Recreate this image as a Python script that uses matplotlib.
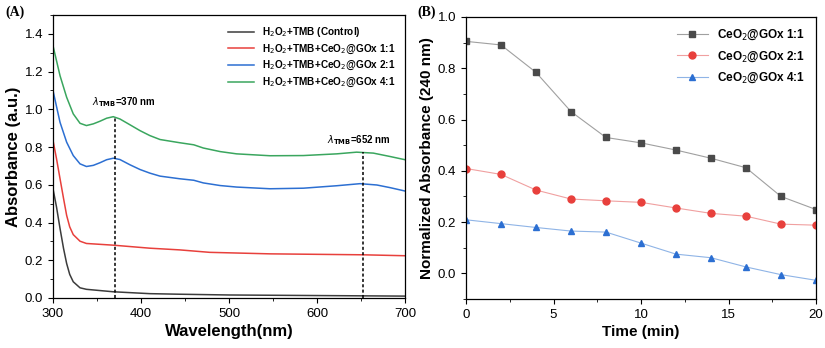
import matplotlib
matplotlib.use("Agg")
import matplotlib.pyplot as plt
from matplotlib.ticker import MultipleLocator

plt.rcParams['font.family'] = ['Liberation Sans', 'DejaVu Sans']

# ---- panel A: UV-vis spectra ----
wl_ctrl = [300, 304, 308, 312, 315.5, 319, 323, 330.7, 338, 368.5, 410, 444, 500, 600, 700]
ab_ctrl = [0.579, 0.482, 0.368, 0.262, 0.183, 0.125, 0.086, 0.054, 0.046, 0.033, 0.023,
           0.020, 0.016, 0.013, 0.010]

wl_11 = [300, 304, 308, 312, 315.5, 319, 323, 330.7, 338, 368.5, 410, 444, 478, 546.6,
         652, 700]
ab_11 = [0.835, 0.738, 0.632, 0.527, 0.438, 0.377, 0.336, 0.301, 0.289, 0.280, 0.264,
         0.255, 0.242, 0.234, 0.229, 0.224]

wl_21 = [300, 308, 315.5, 323, 330.7, 338, 345.8, 353.4, 361, 368.5, 376, 387.5, 398.9,
         410, 421.6, 444, 460, 470.8, 490, 508.7, 546.6, 584.5, 622.4, 648.9, 668, 683, 700]
ab_21 = [1.099, 0.931, 0.826, 0.755, 0.711, 0.697, 0.703, 0.717, 0.733, 0.741, 0.734,
         0.706, 0.681, 0.662, 0.646, 0.632, 0.624, 0.610, 0.596, 0.588, 0.579, 0.582,
         0.595, 0.606, 0.599, 0.585, 0.567]

wl_41 = [300, 308, 315.5, 323, 330.7, 338, 345.8, 353.4, 361, 368.5, 376, 387.5, 398.9,
         410, 421.6, 444, 460, 470.8, 490, 508.7, 546.6, 584.5, 622.4, 645, 664, 683, 700]
ab_41 = [1.337, 1.178, 1.064, 0.976, 0.926, 0.914, 0.923, 0.937, 0.953, 0.961, 0.949,
         0.918, 0.887, 0.861, 0.840, 0.823, 0.812, 0.795, 0.776, 0.764, 0.754, 0.755,
         0.764, 0.773, 0.768, 0.750, 0.733]

labels_a = ['H$_2$O$_2$+TMB (Control)', 'H$_2$O$_2$+TMB+CeO$_2$@GOx 1:1',
            'H$_2$O$_2$+TMB+CeO$_2$@GOx 2:1', 'H$_2$O$_2$+TMB+CeO$_2$@GOx 4:1']
colors_a = ['#3c3c3c', '#e8403c', '#2c6fd2', '#3aa65e']

peaks = [370, 652]
peak_tops = [0.962, 0.772]

# ---- panel B: normalized absorbance vs time ----
time = [0, 2, 4, 6, 8, 10, 12, 14, 16, 18, 20]
abs_11 = [0.905, 0.891, 0.784, 0.631, 0.530, 0.509, 0.481, 0.449, 0.412, 0.300, 0.249]
abs_21 = [0.409, 0.386, 0.325, 0.290, 0.283, 0.277, 0.255, 0.234, 0.223, 0.192, 0.188]
abs_41 = [0.209, 0.194, 0.179, 0.165, 0.161, 0.118, 0.075, 0.061, 0.025, -0.005, -0.027]
labels_b = ['CeO$_2$@GOx 1:1', 'CeO$_2$@GOx 2:1', 'CeO$_2$@GOx 4:1']

fig = plt.figure(figsize=(8.25, 3.48), dpi=100)
axA = fig.add_axes([53/825, 1-298/348, 352/825, 283/348])
axB = fig.add_axes([466/825, 1-299/348, 350/825, 282/348])

for wl, ab, lab, c in zip([wl_ctrl, wl_11, wl_21, wl_41], [ab_ctrl, ab_11, ab_21, ab_41],
                          labels_a, colors_a):
    axA.plot(wl, ab, color=c, lw=1.1, label=lab)

for p, top in zip(peaks, peak_tops):
    axA.plot([p, p], [0, top], color='black', ls=(0, (2, 1.5)), lw=1.1)
axA.text(381, 1.04, r'$\lambda_{\mathbf{TMB}}$=370 nm', ha='center', va='center',
         fontsize=7, fontweight='bold')
axA.text(648, 0.836, r'$\lambda_{\mathbf{TMB}}$=652 nm', ha='center', va='center',
         fontsize=7, fontweight='bold')

axA.set_xlim(300, 700)
axA.set_ylim(0, 1.5)
axA.xaxis.set_major_locator(MultipleLocator(100))
axA.xaxis.set_minor_locator(MultipleLocator(50))
axA.yaxis.set_major_locator(MultipleLocator(0.2))
axA.yaxis.set_minor_locator(MultipleLocator(0.1))
axA.set_xlabel('Wavelength(nm)', fontsize=12, fontweight='bold', labelpad=3)
axA.set_ylabel('Absorbance (a.u.)', fontsize=12, fontweight='bold', labelpad=3)
axA.legend(loc='upper right', frameon=False, handlelength=2.6,
           borderaxespad=0.6, labelspacing=0.35, prop={'weight': 'bold', 'size': 7.2})

axB.plot(time, abs_11, color='#a0a0a0', lw=0.8, marker='s', ms=4.5,
         mfc='#4a4a4a', mec='#4a4a4a', label=labels_b[0])
axB.plot(time, abs_21, color='#f0a0a0', lw=0.8, marker='o', ms=5,
         mfc='#e8403c', mec='#e8403c', label=labels_b[1])
axB.plot(time, abs_41, color='#8fb4e6', lw=0.8, marker='^', ms=5,
         mfc='#2c6fd2', mec='#2c6fd2', label=labels_b[2])

axB.set_xlim(0, 20)
axB.set_ylim(-0.1, 1.0)
axB.xaxis.set_major_locator(MultipleLocator(5))
axB.xaxis.set_minor_locator(MultipleLocator(2.5))
axB.yaxis.set_major_locator(MultipleLocator(0.2))
axB.yaxis.set_minor_locator(MultipleLocator(0.1))
axB.set_xlabel('Time (min)', fontsize=11, fontweight='bold', labelpad=3)
axB.set_ylabel('Normalized Absorbance (240 nm)', fontsize=11, fontweight='bold', labelpad=3)
axB.legend(loc='upper right', frameon=False, handlelength=2.6, borderaxespad=0.5,
           labelspacing=0.6, prop={'weight': 'bold', 'size': 8.5})

for ax in (axA, axB):
    ax.tick_params(which='major', direction='out', length=3.5, width=0.8, labelsize=9.5)
    ax.tick_params(which='minor', direction='out', length=2, width=0.6)
    for s in ax.spines.values():
        s.set_linewidth(0.9)

fig.text(5/825, 1-12/348, '(A)', fontsize=10, fontweight='bold', family='Liberation Serif',
         va='center')
fig.text(417/825, 1-12/348, '(B)', fontsize=10, fontweight='bold', family='Liberation Serif',
         va='center')

fig.savefig('out.png', dpi=100)
